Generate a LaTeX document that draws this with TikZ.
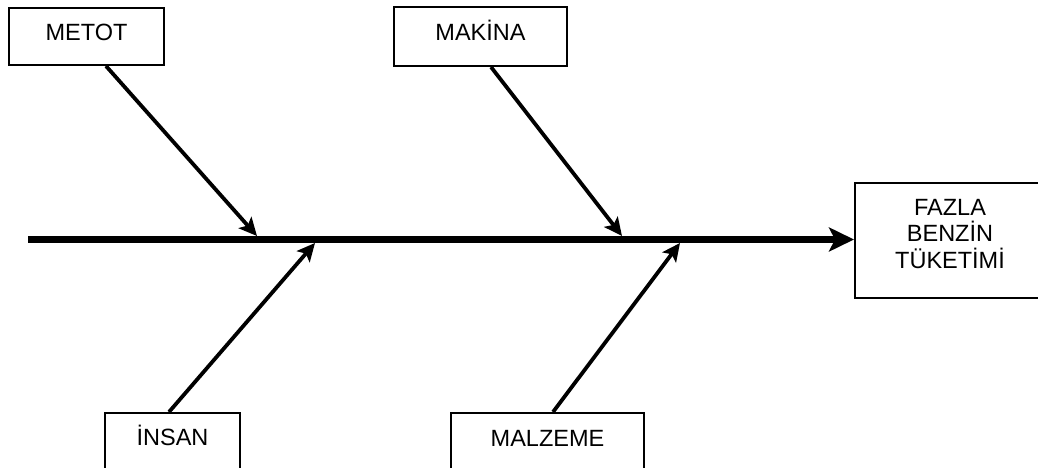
\documentclass[tikz,border=0pt]{standalone}
\usepackage{fontspec}
\setmainfont{Liberation Sans}
\usetikzlibrary{arrows.meta,calc}
\tikzset{
  causebox/.style={draw=black, line width=2pt, inner sep=0pt, anchor=north west,
    font=\fontsize{23.5}{27}\selectfont},
  branch/.style={line width=3.8pt, -{Stealth[length=18pt,width=17pt,inset=4pt]}},
  spine/.style={line width=7pt, -{Stealth[length=25pt,width=24pt,inset=6pt]}},
}
\begin{document}
\begin{tikzpicture}[x=1pt,y=-1pt]
  \useasboundingbox (0,0) rectangle (1038,468);
  \clip (0,0) rectangle (1038,468);

  % cause boxes
  \node[causebox, minimum width=155pt, text height=33pt, text depth=24pt] (metot) at (8,7) {METOT};
  \node[causebox, minimum width=173pt, text height=34pt, text depth=25pt] (makina) at (393,6) {MAKİNA};
  \node[causebox, minimum width=135pt, text height=32pt, text depth=40pt] (insan) at (104,412) {İNSAN};
  \node[causebox, minimum width=193pt, text height=33pt, text depth=40pt] (malzeme) at (450,412) {MALZEME};

  % effect box
  \node[causebox, minimum width=192pt, minimum height=115pt] (effect) at (854,182) {};
  \node[anchor=base, align=center, font=\fontsize{23.5}{26.5}\selectfont] (effecttext) at (950,268) {FAZLA\\BENZİN\\TÜKETİMİ};

  % spine
  \coordinate (tail) at (28,239.5);
  \draw[spine] (tail) -- (effect.west |- tail);

  % points where the branches meet the spine
  \coordinate (p1) at (257,236);
  \coordinate (p2) at (622,236);
  \coordinate (p3) at (315,243);
  \coordinate (p4) at (680,243);

  \draw[branch] ($(metot.south)+(19.5,0)$) -- (p1);
  \draw[branch] ($(makina.south)+(10.5,0)$) -- (p2);
  \draw[branch] ($(insan.north)+(-3.5,0)$) -- (p3);
  \draw[branch] ($(malzeme.north)+(5.5,0)$) -- (p4);
\end{tikzpicture}
\end{document}
